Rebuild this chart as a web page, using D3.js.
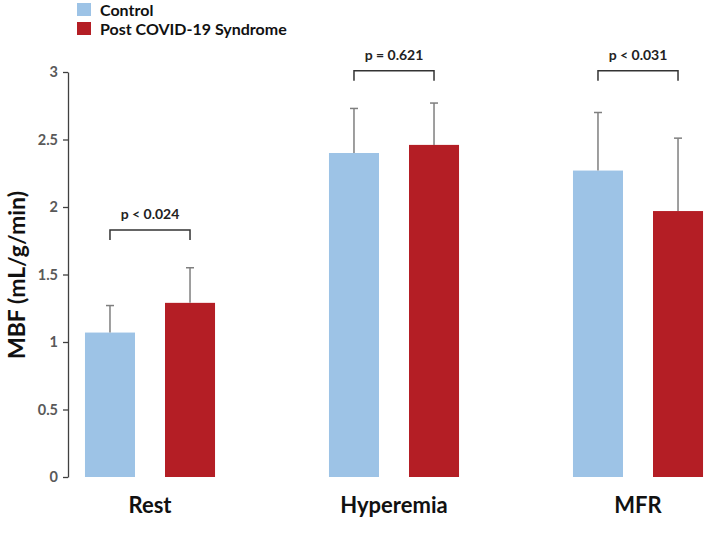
<!DOCTYPE html>
<html>
<head>
<meta charset="utf-8">
<script src="https://cdn.jsdelivr.net/npm/d3@7"></script>
<style>
  html, body { margin: 0; padding: 0; background: #fff; }
  svg { display: block; font-family: Lato, "Open Sans", sans-serif; }
</style>
</head>
<body>
<svg id="chart" width="709" height="538"></svg>
<script>
const categories = ["Rest", "Hyperemia", "MFR"];
const seriesNames = ["Control", "Post COVID-19 Syndrome"];
const controlValues = [1.07, 2.40, 2.27];
const controlSD = [0.20, 0.33, 0.43];
const postValues = [1.29, 2.46, 1.97];
const postSD = [0.26, 0.31, 0.54];
const pLabels = ["p < 0.024", "p = 0.621", "p < 0.031"];
const bracketLevels = [1.83, 3.01, 3.01];
const yTicks = [0, 0.5, 1, 1.5, 2, 2.5, 3];
const yTickLabels = ["0", "0.5", "1", "1.5", "2", "2.5", "3"];
const colors = ["#9DC3E6", "#B41E25"];

const data = categories.map((c, i) => ({
  category: c,
  bars: [
    { series: seriesNames[0], value: controlValues[i], sd: controlSD[i] },
    { series: seriesNames[1], value: postValues[i], sd: postSD[i] }
  ]
}));

const svg = d3.select("#chart");
const y = d3.scaleLinear().domain([0, 3]).range([477, 72]);
const x0 = d3.scaleBand().domain(categories).range([28, 760])
  .paddingInner(0.467).paddingOuter(0.2335);
const x1 = d3.scaleBand().domain(seriesNames).range([0, x0.bandwidth()])
  .paddingInner(0.375).paddingOuter(0);
const color = d3.scaleOrdinal().domain(seriesNames).range(colors);

// y axis
const axisX = 68;
const yAxis = d3.axisLeft(y).tickValues(yTicks)
  .tickFormat((d, i) => yTickLabels[i]).tickSize(5).tickSizeOuter(0);
const ag = svg.append("g").attr("transform", `translate(${axisX},0)`).call(yAxis);
ag.select(".domain").attr("stroke", "#404040").attr("stroke-width", 1.3);
ag.selectAll(".tick line").attr("stroke", "#404040").attr("stroke-width", 1.3);
ag.selectAll(".tick text").attr("fill", "#595959").attr("font-size", 14.5)
  .attr("font-weight", "bold").attr("font-family", "Lato, sans-serif").attr("x", -10);

// y label
svg.append("text")
  .attr("transform", "translate(25,275) rotate(-90)")
  .attr("text-anchor", "middle")
  .attr("font-size", 23).attr("font-weight", "bold").attr("fill", "#111")
  .text("MBF (mL/g/min)");

// bars
const groups = svg.selectAll("g.grp").data(data).join("g")
  .attr("class", "grp")
  .attr("transform", d => `translate(${x0(d.category)},0)`);

groups.selectAll("rect").data(d => d.bars).join("rect")
  .attr("x", d => x1(d.series))
  .attr("width", x1.bandwidth())
  .attr("y", d => y(d.value))
  .attr("height", d => y(0) - y(d.value))
  .attr("fill", d => color(d.series));

// error bars (upper only)
groups.selectAll("g.err").data(d => d.bars).join("g").attr("class", "err")
  .each(function(d) {
    const g = d3.select(this);
    const cx = x1(d.series) + x1.bandwidth() / 2;
    g.append("line").attr("x1", cx).attr("x2", cx)
      .attr("y1", y(d.value)).attr("y2", y(d.value + d.sd))
      .attr("stroke", "#7f7f7f").attr("stroke-width", 1.5);
    g.append("line").attr("x1", cx - 4).attr("x2", cx + 4)
      .attr("y1", y(d.value + d.sd)).attr("y2", y(d.value + d.sd))
      .attr("stroke", "#7f7f7f").attr("stroke-width", 1.5);
  });

// significance brackets
groups.each(function(d, i) {
  const g = d3.select(this);
  const xa = x1(seriesNames[0]) + x1.bandwidth() / 2;
  const xb = x1(seriesNames[1]) + x1.bandwidth() / 2;
  const yb = y(bracketLevels[i]);
  g.append("path")
    .attr("d", `M${xa},${yb + 10}V${yb}H${xb}V${yb + 10}`)
    .attr("fill", "none").attr("stroke", "#333").attr("stroke-width", 1.5);
  g.append("text")
    .attr("x", (xa + xb) / 2).attr("y", yb - 11)
    .attr("text-anchor", "middle").attr("font-size", 14)
    .attr("font-weight", "bold").attr("fill", "#222")
    .text(pLabels[i]);
});

// category labels
svg.selectAll("text.cat").data(categories).join("text")
  .attr("class", "cat")
  .attr("x", d => x0(d) + x0.bandwidth() / 2)
  .attr("y", 513)
  .attr("text-anchor", "middle")
  .attr("font-size", 22).attr("font-weight", "bold").attr("fill", "#111")
  .text(d => d);

// legend
const lg = svg.append("g").attr("transform", "translate(77,3)");
const li = lg.selectAll("g").data(seriesNames).join("g")
  .attr("transform", (d, i) => `translate(0,${i * 19})`);
li.append("rect").attr("width", 14).attr("height", 13)
  .attr("fill", d => color(d));
li.append("text").attr("x", 23).attr("y", 12.5)
  .attr("font-size", 16).attr("font-weight", "bold").attr("fill", "#111")
  .text(d => d);
</script>
</body>
</html>
